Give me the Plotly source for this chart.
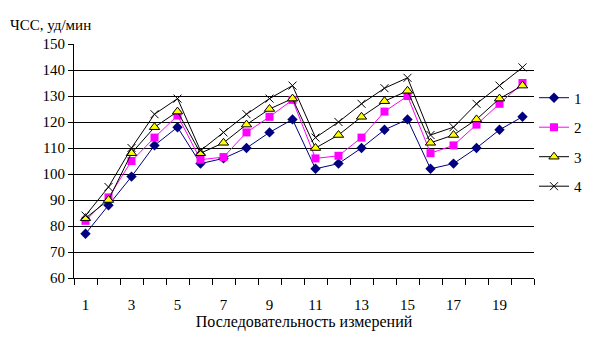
import plotly.graph_objects as go

measure = list(range(1, 21))
series_names = ["1", "2", "3", "4"]
s1 = [77, 88, 99, 111, 118, 104, 106, 110, 116, 121, 102, 104, 110, 117, 121, 102, 104, 110, 117, 122]
s2 = [82, 91, 105, 114, 122.5, 105.5, 106.5, 116, 122, 128.5, 106, 107, 114, 124, 130, 108, 111, 119, 127, 135]
s3 = [83, 90, 108, 118, 124, 108, 112, 119, 125, 129, 110, 115, 122, 128, 132, 112, 115, 121, 129, 134]
s4 = [84, 95, 110, 123, 129, 109, 116, 123, 129, 134, 114, 120, 127, 133, 137, 115, 118, 127, 134, 141]
x_tick_labels = [str(i) for i in range(1, 20, 2)]
y_title = "ЧСС, уд/мин"
x_title = "Последовательность измерений"

FONT = "Liberation Serif"

styles = [
    dict(line=dict(color="#000080", width=1), marker=dict(symbol="diamond", size=8, color="#000080")),
    dict(line=dict(color="#FF00FF", width=1), marker=dict(symbol="square", size=8, color="#FF00FF")),
    dict(line=dict(color="#000000", width=1), marker=dict(symbol="triangle-up", size=9, color="#FFFF00",
                                                            line=dict(color="#000000", width=1))),
    dict(line=dict(color="#000000", width=1), marker=dict(symbol="x-thin-open", size=8, color="#000000",
                                                            line=dict(color="#000000", width=1))),
]

fig = go.Figure()
for name, vals, st in zip(series_names, [s1, s2, s3, s4], styles):
    fig.add_trace(go.Scatter(x=measure, y=vals, name=name, mode="lines+markers",
                             legendgroup=name, **st))

fig.update_layout(
    width=599, height=350,
    margin=dict(l=74, r=55, t=44, b=72),
    paper_bgcolor="white", plot_bgcolor="white",
    font=dict(family=FONT, size=15, color="black"),
    showlegend=True,
    legend=dict(x=1.0, y=0.84, xanchor="left", yanchor="top", bgcolor="white",
                font=dict(family=FONT, size=15), tracegroupgap=7, itemwidth=30,
                borderwidth=0),
    xaxis=dict(range=[0.5, 20.5], tickvals=list(range(1, 20, 2)), ticktext=x_tick_labels,
               ticks="outside", ticklen=0, ticklabelstandoff=13, showgrid=False, showline=True,
               linecolor="black", linewidth=1, zeroline=False,
               minor=dict(tick0=0.5, dtick=1, ticks="outside", ticklen=6, tickcolor="black",
                          showgrid=False),
               tickfont=dict(family=FONT, size=15),
               title=dict(text=x_title, font=dict(family=FONT, size=16), standoff=2)),
    yaxis=dict(range=[60, 150], dtick=10, ticks="outside", ticklen=5, tickcolor="black",
               showgrid=True, gridcolor="black", gridwidth=1, showline=True, linecolor="black",
               linewidth=1, zeroline=False, tickfont=dict(family=FONT, size=15)),
    annotations=[dict(text=y_title, x=0, y=1, xref="paper", yref="paper", showarrow=False,
                      xanchor="left", yanchor="bottom", xshift=-66, yshift=9,
                      font=dict(family=FONT, size=15))],
)

fig.write_html("out.html")
